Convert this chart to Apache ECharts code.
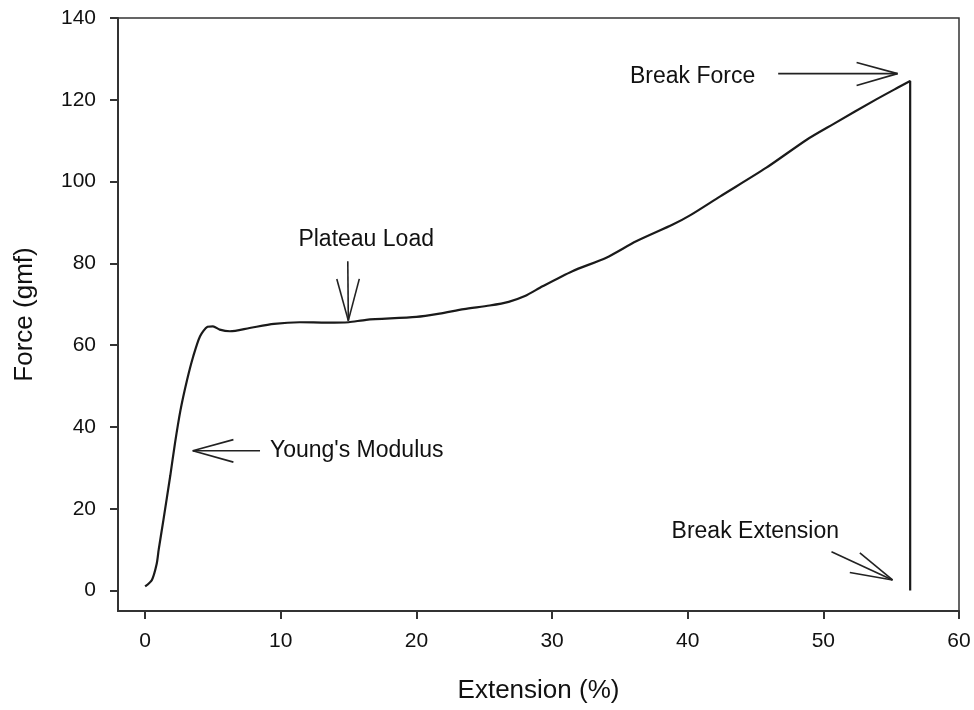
<!DOCTYPE html>
<html>
<head>
<meta charset="utf-8">
<script src="https://cdn.jsdelivr.net/npm/echarts@6/dist/echarts.min.js"></script>
<style>html,body{margin:0;padding:0;background:#fff;}#c{width:974px;height:710px;}</style>
</head>
<body>
<div id="c"></div>
<script>
// Force-extension curve (extension %, force gmf)
var curve = [
  [0,1.0],[0.5,2.6],[0.85,6.5],[1.0,10],[1.35,17.3],[1.85,28],[2.2,36],[2.6,44],[3.1,51.6],[3.55,57.3],
  [4.05,62.2],[4.6,64.5],[5.0,64.6],[5.5,63.8],[6.25,63.4],[7.7,64.2],[9.5,65.2],[11.4,65.6],
  [13.4,65.5],[15.0,65.6],[16.3,66.2],[20,66.9],[21.7,67.7],[23.5,68.8],[25.4,69.7],[26.8,70.6],
  [28,72.0],[29.3,74.4],[31.5,78.1],[34,81.4],[36.2,85.4],[38.9,89.5],[40.2,91.8],[42.4,96.4],
  [45.8,103.4],[48.8,110.3],[50.7,114],[53.9,120.1],[55.5,123],[56.4,124.6],[56.4,0]
];
var xTicks = [0,10,20,30,40,50,60];
var yTicks = [0,20,40,60,80,100,120,140];
// annotation arrow segments [x1,y1,x2,y2] in data units
var arrowSegments = [
  // Young's Modulus
  [8.47,34.2,3.51,34.2],[6.51,36.9,3.51,34.2],[6.51,31.4,3.51,34.2],
  // Plateau Load
  [14.94,80.5,14.98,66.0],[14.13,76.2,14.98,66.0],[15.79,76.2,14.98,66.0],
  // Break Force
  [46.67,126.4,55.47,126.4],[52.45,129.1,55.47,126.4],[52.45,123.5,55.47,126.4],
  // Break Extension
  [50.6,9.5,55.1,2.6],[52.69,9.2,55.1,2.6],[51.95,4.4,55.1,2.6]
];
// annotation texts [x, y, text, align]
var annotationTexts = [
  [9.2,34.2,"Young's Modulus","left"],
  [11.3,85.8,"Plateau Load","left"],
  [35.74,125.7,"Break Force","left"],
  [38.81,14.3,"Break Extension","left"]
];

var FONT = '"Liberation Sans", Arial, Helvetica, sans-serif';
var chart = echarts.init(document.getElementById('c'));
chart.setOption({
  animation: false,
  backgroundColor: '#fff',
  grid: {left: 118, right: 15, top: 18, bottom: 99, show: true, borderColor: '#333', borderWidth: 1.5, backgroundColor: 'transparent'},
  xAxis: {
    type: 'value', min: -2, max: 60,
    name: 'Extension (%)', nameLocation: 'middle', nameGap: 67,
    nameTextStyle: {fontFamily: FONT, fontSize: 26, color: '#111'},
    axisLine: {show: true, onZero: false, lineStyle: {color: '#333', width: 2}},
    axisTick: {show: true, length: 8, customValues: xTicks, lineStyle: {color: '#333', width: 2}},
    axisLabel: {customValues: xTicks, margin: 20, fontFamily: FONT, fontSize: 21, color: '#111'},
    splitLine: {show: false}
  },
  yAxis: {
    type: 'value', min: -5, max: 140,
    name: 'Force (gmf)', nameLocation: 'middle', nameGap: 80,
    nameTextStyle: {fontFamily: FONT, fontSize: 26, color: '#111'},
    axisLine: {show: true, onZero: false, lineStyle: {color: '#333', width: 2}},
    axisTick: {show: true, length: 8, customValues: yTicks, lineStyle: {color: '#333', width: 2}},
    axisLabel: {customValues: yTicks, margin: 22, fontFamily: FONT, fontSize: 21, color: '#111'},
    splitLine: {show: false}
  },
  series: [
    {
      type: 'line', data: curve, showSymbol: false, symbol: 'none', smooth: 0.25,
      lineStyle: {color: '#1a1a1a', width: 2.2}
    },
    {
      type: 'custom', data: arrowSegments, silent: true,
      renderItem: function (params, api) {
        var p1 = api.coord([api.value(0), api.value(1)]);
        var p2 = api.coord([api.value(2), api.value(3)]);
        return {type: 'line', shape: {x1: p1[0], y1: p1[1], x2: p2[0], y2: p2[1]},
                style: {stroke: '#222', lineWidth: 1.6}};
      },
      encode: {x: [0, 2], y: [1, 3]}
    },
    {
      type: 'custom', data: annotationTexts, silent: true,
      renderItem: function (params, api) {
        var d = annotationTexts[params.dataIndex];
        var p = api.coord([d[0], d[1]]);
        return {type: 'text', x: p[0], y: p[1],
                style: {text: d[2], fill: '#111', font: '23px ' + FONT, align: d[3], verticalAlign: 'middle'}};
      },
      encode: {x: 0, y: 1}
    }
  ]
});
</script>
</body>
</html>
